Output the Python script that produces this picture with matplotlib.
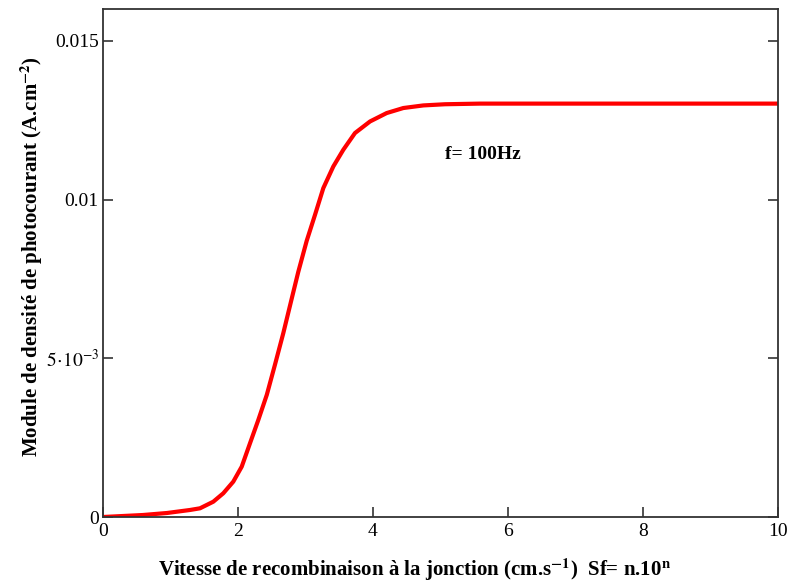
import matplotlib
matplotlib.use("Agg")
import matplotlib.pyplot as plt

# Data
sf_n = [0.0, 0.593, 0.948, 1.289, 1.437, 1.634, 1.782, 1.930, 2.055, 2.178,
        2.301, 2.427, 2.548, 2.671, 2.796, 2.893, 3.018, 3.141, 3.264, 3.412,
        3.560, 3.733, 3.956, 4.203, 4.449, 4.745, 5.067, 5.585, 10.0]
jph = [0.0, 0.063e-3, 0.126e-3, 0.221e-3, 0.274e-3, 0.482e-3, 0.747e-3,
       1.113e-3, 1.585e-3, 2.323e-3, 3.057e-3, 3.85e-3, 4.80e-3, 5.790e-3,
       6.88e-3, 7.72e-3, 8.70e-3, 9.518e-3, 10.359e-3, 11.040e-3, 11.566e-3,
       12.093e-3, 12.458e-3, 12.723e-3, 12.881e-3, 12.963e-3, 13.0e-3,
       13.02e-3, 13.02e-3]
x_ticks = [0, 2, 4, 6, 8, 10]
y_ticks = [0, 0.005, 0.01, 0.015]
y_ticklabels = ["0", r"$5\!\cdot\!10^{-3}$", "0.01", "0.015"]

plt.rcParams['font.family'] = ['Liberation Serif', 'DejaVu Serif']
plt.rcParams['mathtext.fontset'] = 'stix'

fig = plt.figure(figsize=(7.92, 5.85), dpi=100)
ax = fig.add_axes([103/792, 1 - 517/585, (778-103)/792, (517-9)/585])

ax.plot(sf_n, jph, color='#ff0000', lw=3.0, solid_joinstyle='round',
        solid_capstyle='butt')

ax.set_xlim(0, 10)
ax.set_ylim(0, 0.016)
ax.set_xticks(x_ticks)
ax.set_xticklabels([str(t) for t in x_ticks])
ax.set_yticks(y_ticks)
ax.set_yticklabels(y_ticklabels)

for s in ax.spines.values():
    s.set_linewidth(1.3)
    s.set_color('#333333')

ax.tick_params(axis='both', direction='in', length=7, width=1.2, color='#333333',
               labelsize=14, pad=4)
ax.tick_params(axis='y', right=True, pad=3)

ax.set_xlabel(r"Vitesse de recombinaison à la jonction (cm.s$^{\mathbf{-1}}$)  Sf= n.10$^{\mathbf{n}}$",
              fontsize=15, fontweight='bold')
ax.xaxis.set_label_coords(0.462, -0.104)
ax.xaxis.label.set_va('center')
ax.set_ylabel(r"Module de densité de photocourant (A.cm$^{\mathbf{-2}}$)",
              fontsize=15, fontweight='bold')
ax.yaxis.set_label_coords(-0.106, 0.512)
ax.yaxis.label.set_va('center')

ax.text(5.07, 0.01141, "f= 100Hz", fontsize=14, fontweight='bold',
        ha='left', va='center')

fig.savefig("out.png", dpi=100)
